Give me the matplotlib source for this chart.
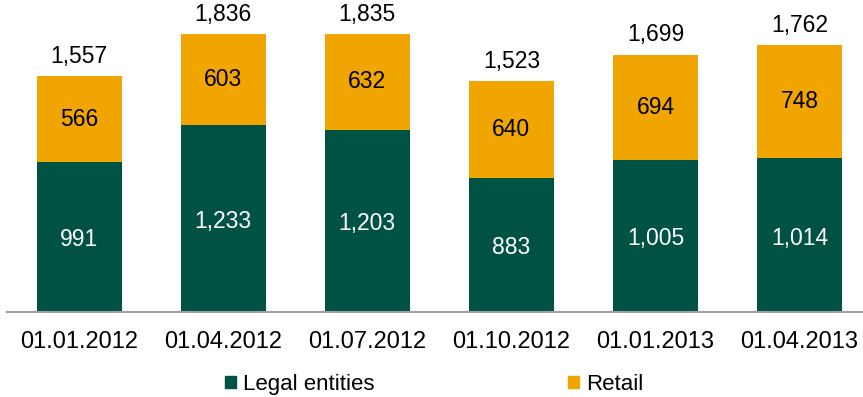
import numpy as np
import matplotlib
matplotlib.use("Agg")
import matplotlib.pyplot as plt
from matplotlib.patches import Patch

plt.rcParams['font.family'] = ['Liberation Sans', 'DejaVu Sans']

dates = ['01.01.2012', '01.04.2012', '01.07.2012', '01.10.2012', '01.01.2013', '01.04.2013']
legal = [991, 1233, 1203, 883, 1005, 1014]
retail = [566, 603, 632, 640, 694, 748]
totals = [1557, 1836, 1835, 1523, 1699, 1762]

green = '#005244'
orange = '#F0A500'

fig = plt.figure(figsize=(8.63, 3.97), dpi=100)
ax = fig.add_axes([7 / 863, 0.214, 856 / 863, 0.763])

x = np.arange(len(dates))
w = 0.59
ax.bar(x, legal, w, color=green)
ax.bar(x, retail, w, bottom=legal, color=orange)

for i in range(len(dates)):
    ax.annotate(f'{legal[i]:,}', (x[i], legal[i] / 2), xytext=(0, -2),
                textcoords='offset points', ha='center', va='center',
                color='white', fontsize=16.5)
    ax.text(x[i], legal[i] + retail[i] / 2, f'{retail[i]:,}', ha='center',
            va='center', color='black', fontsize=16.5)
    ax.annotate(f'{totals[i]:,}', (x[i], legal[i] + retail[i]), xytext=(0, 6),
                textcoords='offset points', ha='center', va='bottom',
                fontsize=16.5)

ax.set_xlim(-0.5, 5.44)
ax.set_ylim(0, 2000)
ax.set_xticks(x)
ax.set_xticklabels(dates, fontsize=17)
ax.tick_params(axis='x', length=0, pad=14)
ax.set_yticks([])
for s in ['left', 'right', 'top']:
    ax.spines[s].set_visible(False)
ax.spines['bottom'].set_color('#A0A0A0')
ax.spines['bottom'].set_linewidth(1.5)

handles = [Patch(color=green, label='Legal entities'),
           Patch(color=orange, label='Retail')]
fig.legend(handles=handles, loc='lower center', bbox_to_anchor=(0.503, -0.045),
           ncol=2, frameon=False, fontsize=16, handlelength=0.5,
           handleheight=0.5, handletextpad=0.3, columnspacing=8.7)

fig.savefig('out.png', dpi=100)
